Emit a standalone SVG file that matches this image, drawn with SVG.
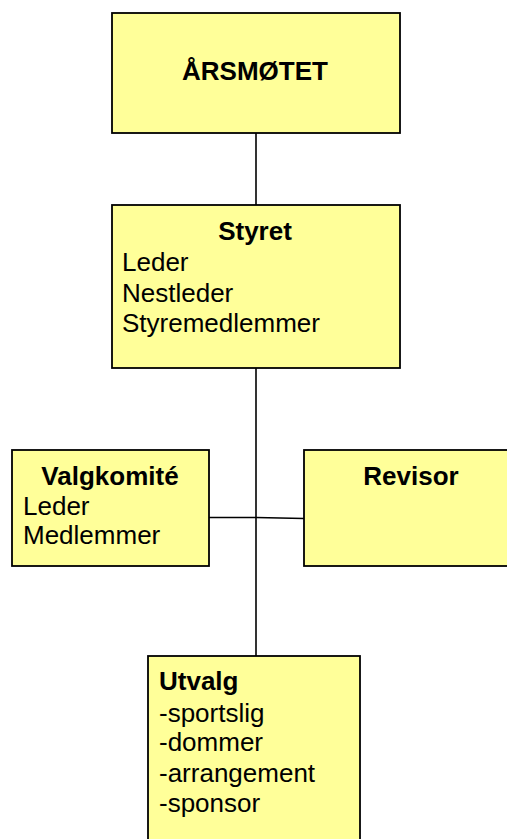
<svg xmlns="http://www.w3.org/2000/svg" width="507" height="839" viewBox="0 0 507 839">
<style>
.box{fill:#FFFF99;stroke:#000;stroke-width:1.8}
.b{font-family:"Liberation Sans",Arial,sans-serif;font-weight:bold;font-size:26px;fill:#000}
.r{font-family:"Liberation Sans",Arial,sans-serif;font-size:26px;fill:#000}
.c{text-anchor:middle}
.ln{stroke:#000;stroke-width:1.6;fill:none}
</style>
<rect width="507" height="839" fill="#fff"/>
<g id="connectors">
<line class="ln" x1="256" y1="133" x2="256" y2="205"/>
<line class="ln" x1="256" y1="368" x2="256" y2="656"/>
<polyline class="ln" points="209,517.5 256,517.5 304,518.5"/>
</g>
<g id="arsmotet">
<rect class="box" x="112" y="13" width="288" height="120"/>
<text class="b c" x="255" y="80">ÅRSMØTET</text>
</g>
<g id="styret">
<rect class="box" x="112" y="205" width="288" height="163"/>
<text class="b c" x="255" y="240">Styret</text>
<text class="r" x="122" y="271">Leder</text>
<text class="r" x="122" y="301.5">Nestleder</text>
<text class="r" x="122" y="331.5">Styremedlemmer</text>
</g>
<g id="valgkomite">
<rect class="box" x="12" y="450" width="197" height="116"/>
<text class="b c" x="110" y="485">Valgkomité</text>
<text class="r" x="23" y="515">Leder</text>
<text class="r" x="23" y="543.5">Medlemmer</text>
</g>
<g id="revisor">
<rect class="box" x="304" y="450" width="220" height="116"/>
<text class="b c" x="411" y="485">Revisor</text>
</g>
<g id="utvalg">
<rect class="box" x="148" y="656" width="212" height="200"/>
<text class="b" x="159" y="690">Utvalg</text>
<text class="r" x="159" y="721.5">-sportslig</text>
<text class="r" x="159" y="751">-dommer</text>
<text class="r" x="159" y="781.5">-arrangement</text>
<text class="r" x="159" y="811.5">-sponsor</text>
</g>
</svg>
